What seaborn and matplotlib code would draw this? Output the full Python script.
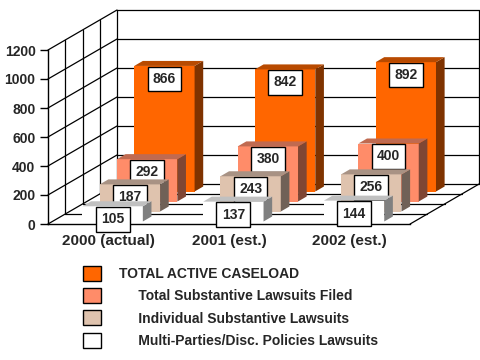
import seaborn as sns
import matplotlib.pyplot as plt
import matplotlib.colors as mcolors
import pandas as pd
from matplotlib.patches import Polygon, Patch
from matplotlib.transforms import Affine2D

# data
years = ["2000 (actual)", "2001 (est.)", "2002 (est.)"]
series = [
    "TOTAL ACTIVE CASELOAD",
    "Total Substantive Lawsuits Filed",
    "Individual Substantive Lawsuits",
    "Multi-Parties/Disc. Policies Lawsuits",
]
caseload = [866, 842, 892]
substantive = [292, 380, 400]
individual = [187, 243, 256]
multi_party = [105, 137, 144]
y_ticks = [0, 200, 400, 600, 800, 1000, 1200]

front_colors = ["#FF6600", "#FF8C69", "#DFC3AE", "#FFFFFF"]
side_colors = ["#7F3300", "#7F4634", "#706157", "#808080"]
top_colors = ["#B84A00", "#C06A50", "#A89284", "#C0C0C0"]

# oblique "3D" look: going one unit deeper moves right and up
DX = 69 / 120.7   # in category units
DY = 40 / 0.145   # in value units
bar_depth = 0.125


def proj(x, v, z):
    return x + DX * z, v + DY * z


df = pd.DataFrame({
    "year": years * 4,
    "count": caseload + substantive + individual + multi_party,
    "series": [s for s in series for _ in years],
})

sns.set_style("white")
plt.rcParams["font.family"] = ["Liberation Sans", "DejaVu Sans"]
plt.rcParams["font.weight"] = "bold"

fig = plt.figure(figsize=(4.8, 3.6), dpi=100)
ax = fig.add_axes([48 / 480, 136 / 360, 432 / 480, 214 / 360])

sns.barplot(
    data=df, x="year", y="count", hue="series", hue_order=series,
    palette=front_colors, saturation=1, dodge=False, width=0.5,
    errorbar=None, linewidth=0, legend=False, ax=ax,
)

# walls and floor grid
line_kw = dict(color="black", lw=0.9, zorder=1, clip_on=False)
for v in y_ticks:
    ax.plot(*zip(proj(-0.5, v, 1), proj(2.5, v, 1)), **line_kw)
    ax.plot(*zip(proj(-0.5, v, 0), proj(-0.5, v, 1)), **line_kw)
for z in [0.25, 0.5, 0.75, 1.0]:
    ax.plot(*zip(proj(-0.5, 0, z), proj(-0.5, 1200, z)), **line_kw)
for z in [0.25, 0.5, 0.75]:
    ax.plot(*zip(proj(-0.5, 0, z), proj(2.5, 0, z)), **line_kw)
ax.plot(*zip(proj(2.5, 0, 0), proj(2.5, 0, 1)), **line_kw)
ax.plot(*zip(proj(2.5, 0, 1), proj(2.5, 1200, 1)), **line_kw)

# shift each series back and add side / top faces
hexes = [mcolors.to_hex(c) for c in front_colors]
for p in list(ax.patches):
    k = hexes.index(mcolors.to_hex(p.get_facecolor()))
    z0 = 0.0625 + (3 - k) * 0.25
    z1 = z0 + bar_depth
    x0, w, v = p.get_x(), p.get_width(), p.get_height()
    p.set_transform(Affine2D().translate(DX * z0, DY * z0) + ax.transData)
    p.set_zorder(2 + k)
    side = [proj(x0 + w, 0, z0), proj(x0 + w, 0, z1),
            proj(x0 + w, v, z1), proj(x0 + w, v, z0)]
    top = [proj(x0, v, z0), proj(x0 + w, v, z0),
           proj(x0 + w, v, z1), proj(x0, v, z1)]
    ax.add_patch(Polygon(side, closed=True, fc=side_colors[k], lw=0, zorder=2 + k))
    ax.add_patch(Polygon(top, closed=True, fc=top_colors[k], lw=0, zorder=2 + k))
    ax.annotate(
        f"{v:.0f}", xy=proj(x0 + w / 2, v, z0), xytext=(0, -6),
        textcoords="offset pixels", ha="center", va="top",
        fontsize=10, fontweight="bold", zorder=2.5 + k,
        bbox=dict(boxstyle="square,pad=0.38", fc="white", ec="black", lw=1),
    )

ax.set_xlim(-0.5, -0.5 + 432 / 120.7)
ax.set_ylim(0, 214 / 0.145)
ax.set_yticks(y_ticks)
ax.set_xlabel("")
ax.set_ylabel("")
for s in ["top", "right"]:
    ax.spines[s].set_visible(False)
ax.spines["left"].set_bounds(0, 1200)
ax.spines["bottom"].set_bounds(-0.5, 2.5)
for s in ["left", "bottom"]:
    ax.spines[s].set_color("black")
    ax.spines[s].set_linewidth(1)
ax.tick_params(axis="y", length=6, width=1, color="black", pad=3,
               labelsize=10, left=True)
ax.tick_params(axis="x", length=0, pad=7, labelsize=11)

handles = [Patch(fc=c, ec="black", lw=1) for c in front_colors]
labels = [series[0]] + ["     " + s for s in series[1:]]
fig.legend(
    handles, labels, loc="upper left", bbox_to_anchor=(83 / 480, 1 - 266 / 360),
    frameon=False, fontsize=10, handlelength=1.3, handleheight=1.3,
    handletextpad=1.3, labelspacing=0.5, borderpad=0, borderaxespad=0,
)

fig.savefig("out.png", dpi=100)
